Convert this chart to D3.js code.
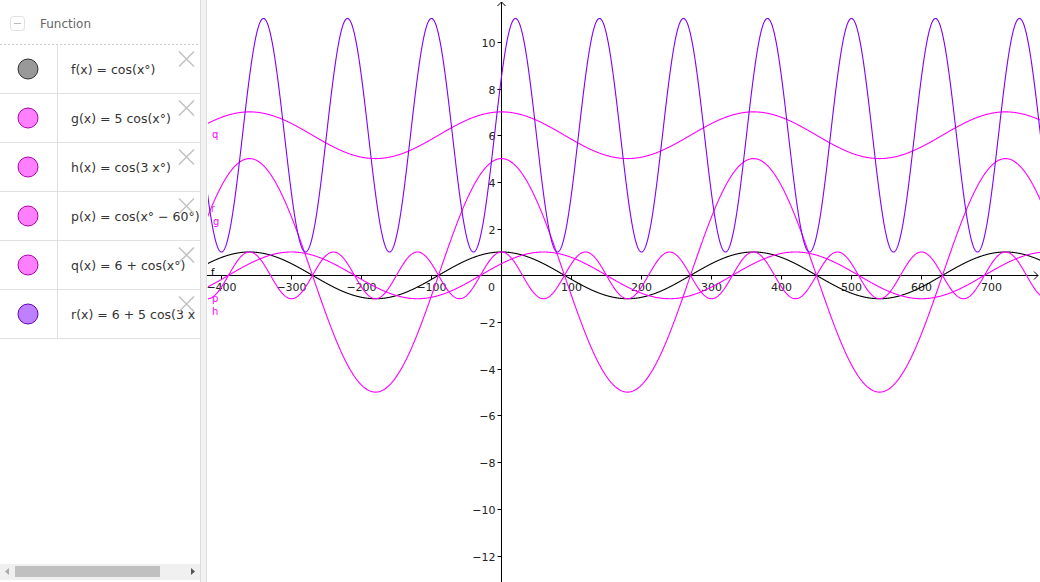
<!DOCTYPE html>
<html><head><meta charset="utf-8">
<script src="https://cdn.jsdelivr.net/npm/d3@7"></script>
<style>
html,body{margin:0;padding:0;background:#fff;overflow:hidden}
svg text{font-family:"DejaVu Sans","Liberation Sans",sans-serif}
</style></head><body>
<svg id="c" width="1040" height="582"></svg>
<script>
// ---- data ----
const names = ["f","g","h","p","q","r"];
const labels = ["f(x) = cos(x°)","g(x) = 5 cos(x°)","h(x) = cos(3 x°)","p(x) = cos(x° − 60°)","q(x) = 6 + cos(x°)","r(x) = 6 + 5 cos(3 x° − 60°)"];
const offsets = [0,0,0,0,6,6];
const amplitudes = [1,5,1,1,1,5];
const frequencies = [1,1,3,1,1,3];
const phases = [0,0,0,60,0,60];
const colors = ["#000000","#ff00ff","#ff00ff","#ff00ff","#ff00ff","#7f00ff"];
const iconFill = ["#999999","#ff80ff","#ff80ff","#ff80ff","#ff80ff","#bf80ff"];
const iconStroke = ["#333333","#b000b0","#b000b0","#b000b0","#b000b0","#6000c0"];
const xTicks = [-400,-300,-200,-100,0,100,200,300,400,500,600,700];
const yTicks = [-12,-10,-8,-6,-4,-2,2,4,6,8,10];
const xDomain = [-420.7, 769.3];
const yDomain = [-13.13, 11.79];

const svg = d3.select("#c");
const W = 1040, H = 582, gx0 = 207;
const x = d3.scaleLinear().domain(xDomain).range([gx0, W]);
const y = d3.scaleLinear().domain(yDomain).range([H, 0]);

// ---- graphics ----
const g = svg.append("g");
g.append("clipPath").attr("id","clip").append("rect").attr("x",gx0+1).attr("y",0).attr("width",W-gx0).attr("height",H);

const X0 = Math.round(x(0))+0.5, Y0 = Math.round(y(0))+0.5;
// axes
g.append("line").attr("x1",gx0).attr("x2",W-2).attr("y1",Y0).attr("y2",Y0).attr("stroke","#000").attr("stroke-width",1);
g.append("line").attr("x1",X0).attr("x2",X0).attr("y1",2).attr("y2",H).attr("stroke","#000").attr("stroke-width",1);
g.append("path").attr("d",`M${W-6},${Y0-4}L${W-2},${Y0}L${W-6},${Y0+4}`).attr("fill","none").attr("stroke","#000");
g.append("path").attr("d",`M${X0-4},${6}L${X0},${2}L${X0+4},${6}`).attr("fill","none").attr("stroke","#000");

const fmt = v => v < 0 ? "−" + Math.abs(v) : String(v);
xTicks.forEach(v=>{
  const px = Math.round(x(v))+0.5;
  if (v !== 0) g.append("line").attr("x1",px).attr("x2",px).attr("y1",Y0).attr("y2",Y0+4).attr("stroke","#000");
  g.append("text").attr("x", v===0 ? X0-10 : px).attr("y",Y0+15).attr("text-anchor","middle")
   .attr("font-size",11).attr("fill","#222").text(fmt(v));
});
yTicks.forEach(v=>{
  const py = Math.round(y(v))+0.5;
  g.append("line").attr("x1",X0-4).attr("x2",X0).attr("y1",py).attr("y2",py).attr("stroke","#000");
  g.append("text").attr("x",X0-6).attr("y",py+4).attr("text-anchor","end")
   .attr("font-size",11).attr("fill","#222").text(fmt(v));
});

// curves
const xs = d3.range(xDomain[0]-5, xDomain[1]+5, 0.5);
const line = d3.line().x(d=>x(d[0])).y(d=>y(d[1]));
const curves = g.append("g").attr("clip-path","url(#clip)");
names.forEach((n,i)=>{
  const pts = xs.map(t => [t, offsets[i] + amplitudes[i]*Math.cos((frequencies[i]*t - phases[i])*Math.PI/180)]);
  curves.append("path").datum(pts).attr("d",line).attr("fill","none")
    .attr("stroke",colors[i]).attr("stroke-width",1.1);
});

// curve labels near the left edge
const curveLabelPos = {q:[212,138], r:[211,212], g:[213,225], f:[211,276], p:[212,302], h:[212,315]};
const curveLabelColor = {q:"#ff00ff", r:"#d040ff", g:"#ff00ff", f:"#000", p:"#ff00ff", h:"#ff00ff"};
names.forEach(n=>{
  g.append("text").attr("x",curveLabelPos[n][0]).attr("y",curveLabelPos[n][1])
   .attr("font-size",10).attr("fill",curveLabelColor[n]).text(n);
});

// ---- algebra panel ----
const pnl = svg.append("g");
pnl.append("rect").attr("x",0).attr("y",0).attr("width",200).attr("height",H).attr("fill","#fff");
pnl.append("rect").attr("x",200).attr("y",0).attr("width",7).attr("height",H).attr("fill","#f2f2f2");
pnl.append("line").attr("x1",200.5).attr("x2",200.5).attr("y1",0).attr("y2",H).attr("stroke","#dcdcdc");
pnl.append("line").attr("x1",206.5).attr("x2",206.5).attr("y1",0).attr("y2",H).attr("stroke","#dcdcdc");

// header
pnl.append("rect").attr("x",10.5).attr("y",16.5).attr("width",14).attr("height",14).attr("rx",3)
  .attr("fill","#fff").attr("stroke","#e0e0e0");
pnl.append("line").attr("x1",14).attr("x2",21).attr("y1",23.5).attr("y2",23.5).attr("stroke","#bbb");
pnl.append("text").attr("x",40).attr("y",28).attr("font-size",12).attr("fill","#666").text("Function");
pnl.append("line").attr("x1",0).attr("x2",200).attr("y1",44.5).attr("y2",44.5)
  .attr("stroke","#ccc").attr("stroke-dasharray","2,2");

const rowTop = 44.5, rowH = 49;
pnl.append("line").attr("x1",57.5).attr("x2",57.5).attr("y1",rowTop).attr("y2",rowTop+rowH*6).attr("stroke","#e0e0e0");
names.forEach((n,i)=>{
  const top = rowTop + i*rowH, cy = top + rowH/2;
  pnl.append("line").attr("x1",0).attr("x2",200).attr("y1",top+rowH).attr("y2",top+rowH).attr("stroke","#e0e0e0");
  pnl.append("circle").attr("cx",28).attr("cy",cy).attr("r",10)
    .attr("fill",iconFill[i]).attr("stroke",iconStroke[i]).attr("stroke-width",1);
  const t = pnl.append("text").attr("x",71).attr("y",cy+5).attr("font-size",12.5).attr("fill","#333")
    .attr("xml:space","preserve").text(labels[i]);
  // the panel cuts off what does not fit in its width
  let s = labels[i];
  while (t.node().getComputedTextLength() > 129 && s.length > 1) { s = s.slice(0,-1); t.text(s); }
  const cx0 = 179, cy0 = top + 7;
  pnl.append("path").attr("d",`M${cx0},${cy0}L${cx0+15},${cy0+15}M${cx0+15},${cy0}L${cx0},${cy0+15}`)
    .attr("stroke","#c4c4c4").attr("stroke-width",1.6).attr("fill","none");
});

// scrollbar
pnl.append("rect").attr("x",0).attr("y",564).attr("width",200).attr("height",16).attr("fill","#f0f0f0");
pnl.append("rect").attr("x",15).attr("y",566).attr("width",145).attr("height",11).attr("fill","#c0c0c0");
pnl.append("path").attr("d","M9,568L5,571.5L9,575Z").attr("fill","#aaa");
pnl.append("path").attr("d","M191,568L195,571.5L191,575Z").attr("fill","#555");
</script>
</body></html>
